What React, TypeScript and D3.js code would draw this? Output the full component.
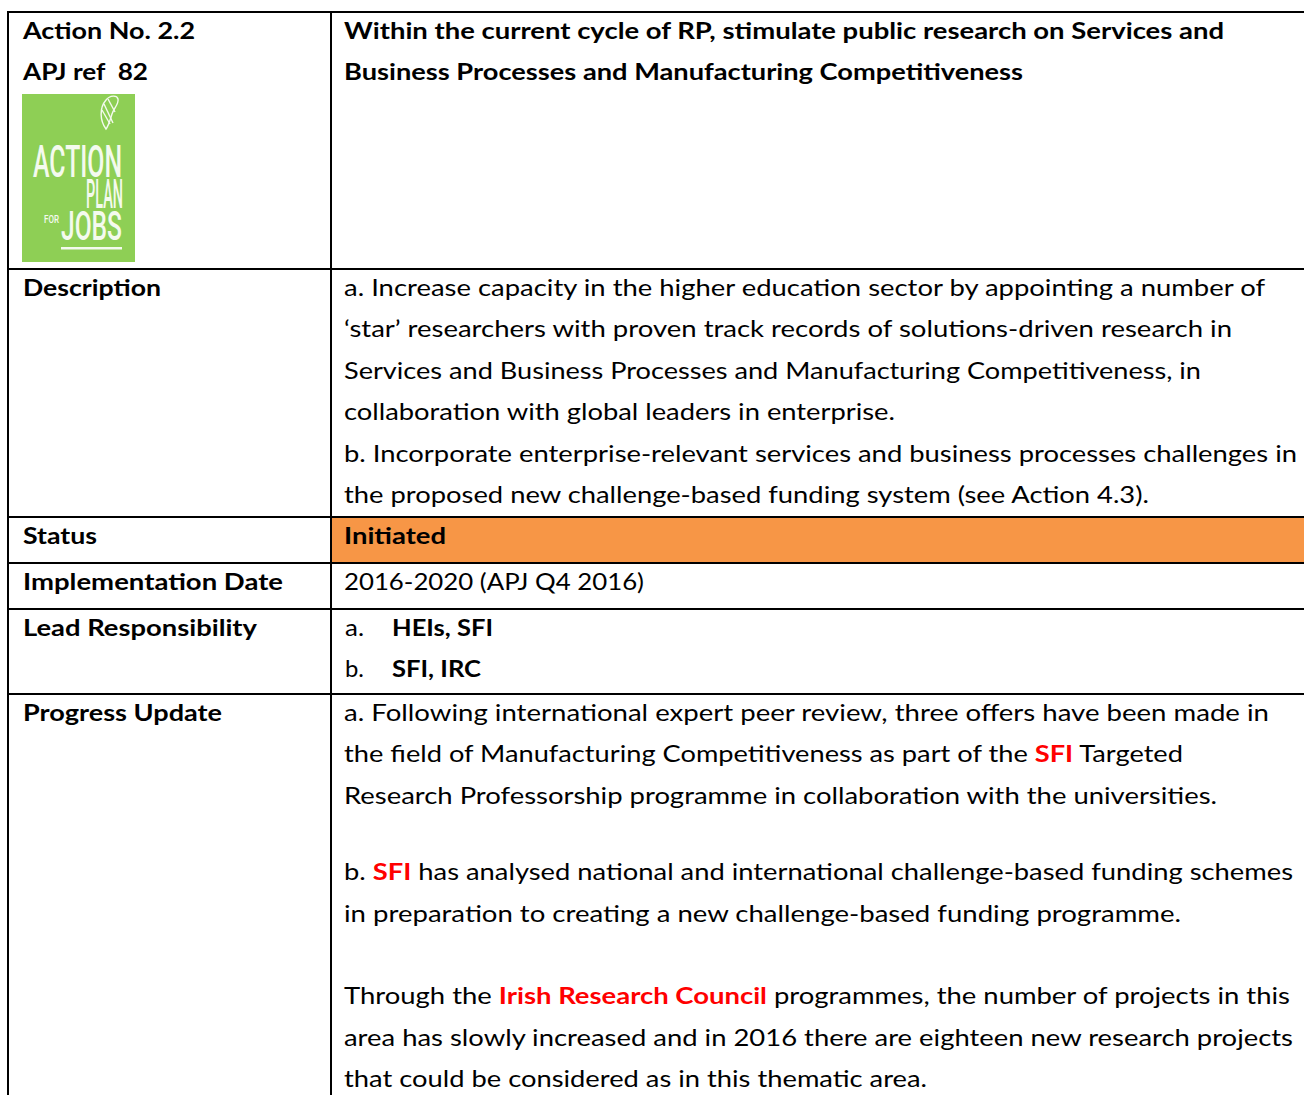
import React from "react";
import * as d3 from "d3";

// ---------- content ----------
const headerLeft = ["Action No. 2.2", "APJ ref  82"];
const headerRight = [
  "Within the current cycle of RP, stimulate public research on Services and",
  "Business Processes and Manufacturing Competitiveness",
];
const rowLabels = ["Description", "Status", "Implementation Date", "Lead Responsibility", "Progress Update"];
const descriptionLines = [
  "a. Increase capacity in the higher education sector by appointing a number of",
  "\u2018star\u2019 researchers with proven track records of solutions-driven research in",
  "Services and Business Processes and Manufacturing Competitiveness, in",
  "collaboration with global leaders in enterprise.",
  "b. Incorporate enterprise-relevant services and business processes challenges in",
  "the proposed new challenge-based funding system (see Action 4.3).",
];
const statusText = "Initiated";
const implementationText = "2016-2020 (APJ Q4 2016)";
const leadMarkers = ["a.", "b."];
const leadValues = ["HEIs, SFI", "SFI, IRC"];
const logoWords = ["ACTION", "PLAN", "FOR", "JOBS"];
// segments: [text, highlighted]
type Seg = [string, boolean];
const progressParagraphs: Seg[][][] = [
  [
    [["a. Following international expert peer review, three offers have been made in", false]],
    [["the field of Manufacturing Competitiveness as part of the ", false], ["SFI", true], [" Targeted", false]],
    [["Research Professorship programme in collaboration with the universities.", false]],
  ],
  [
    [["b. ", false], ["SFI", true], [" has analysed national and international challenge-based funding schemes", false]],
    [["in preparation to creating a new challenge-based funding programme.", false]],
  ],
  [
    [["Through the ", false], ["Irish Research Council", true], [" programmes, the number of projects in this", false]],
    [["area has slowly increased and in 2016 there are eighteen new research projects", false]],
    [["that could be considered as in this thematic area.", false]],
  ],
];

// ---------- layout ----------
const W = 1304;
const H = 1095;
const LEFT_X = 8;
const COL_X = 331;
const rowTops = [12, 269, 517, 563, 609, 694];
const LINE_H = 41.4;
const BASE = 27;
const FONT = "Lato, 'Open Sans', sans-serif";
const FS = 23.5;
const paragraphGaps = [35, 41.4];

// measured line widths (text fitting)
const headerLeftW = [172, 125];
const headerRightW = [880, 679];
const labelW = [138, 74, 260, 234, 199];
const descW = [921, 888, 857, 551, 953, 805];
const statusW = 102;
const implW = 300;
const leadMarkW = [19, 19];
const leadValW = [101, 89];
const progressW = [[925, 839, 873], [949, 837], [946, 949, 583]];

const RED = "#FF0000";

function Line({ x, y, w, bold, children, fill = "#000" }: any) {
  return (
    <text
      x={x}
      y={y}
      fontFamily={FONT}
      fontSize={FS}
      fontWeight={bold ? 700 : 400}
      fill={fill}
      textLength={w}
      lengthAdjust="spacingAndGlyphs"
      style={{ whiteSpace: "pre" }}
    >
      {children}
    </text>
  );
}

function Logo() {
  const x0 = 22, y0 = 94, w = 113, h = 168;
  const white = "#F4FAEE";
  const lf = "Roboto, 'DejaVu Sans Condensed', sans-serif";
  // [x, baseline, size, width]
  const spec: [number, number, number, number][] = [
    [33, 177, 44, 89],
    [86, 208, 41, 37],
    [44, 223, 10, 15],
    [61, 240, 41, 61],
  ];
  return (
    <g>
      <rect x={x0} y={y0} width={w} height={h} fill="#8ECF55" />
      {/* harp */}
      <g fill="none" stroke={white} strokeWidth={1.4}>
        <path d="M106 129 C100 121 99 108 106 100 C110 95 117 95 118 99 C119 104 114 108 112 114 C110 120 109 125 106 129 Z" />
        <path d="M104 104 L113 123" />
        <path d="M102 110 L110 124" />
        <path d="M108 99 L115 112" />
      </g>
      {logoWords.map((t, i) => (
        <text
          key={t}
          x={spec[i][0]}
          y={spec[i][1]}
          fontFamily={lf}
          fontWeight={500}
          fontSize={spec[i][2]}
          fill={white}
          textLength={spec[i][3]}
          lengthAdjust="spacingAndGlyphs"
        >
          {t}
        </text>
      ))}
      <rect x={61} y={247} width={61} height={2.5} fill={white} />
    </g>
  );
}

export default function App() {
  const labelX = 23;
  const textX = COL_X + 13;

  // progress baselines
  const progY: number[][] = [];
  let cur = rowTops[5] + BASE;
  progressParagraphs.forEach((p, pi) => {
    const ys = d3.range(p.length).map((i) => cur + i * LINE_H);
    progY.push(ys);
    cur = ys[ys.length - 1] + LINE_H + (pi < paragraphGaps.length ? paragraphGaps[pi] : 0);
  });

  return (
    <svg
      width={W}
      height={H}
      viewBox={`0 0 ${W} ${H}`}
      style={{ position: "absolute", left: 0, top: 0, background: "#fff" }}
    >
      <rect x={0} y={0} width={W} height={H} fill="#fff" />
      {/* status fill */}
      <rect x={COL_X} y={rowTops[2]} width={W - COL_X} height={rowTops[3] - rowTops[2]} fill="#F79646" />

      {/* header */}
      {headerLeft.map((t, i) => (
        <Line key={"hl" + i} x={labelX} y={rowTops[0] + BASE + i * 41} w={headerLeftW[i]} bold>{t}</Line>
      ))}
      {headerRight.map((t, i) => (
        <Line key={"hr" + i} x={COL_X + 13} y={rowTops[0] + BASE + i * 41} w={headerRightW[i]} bold>{t}</Line>
      ))}
      <Logo />

      {/* labels */}
      {rowLabels.map((t, i) => (
        <Line key={"lb" + i} x={labelX} y={rowTops[i + 1] + BASE} w={labelW[i]} bold>{t}</Line>
      ))}

      {/* description */}
      {descriptionLines.map((t, i) => (
        <Line key={"d" + i} x={textX} y={rowTops[1] + BASE + i * LINE_H} w={descW[i]}>{t}</Line>
      ))}

      {/* status */}
      <Line x={textX} y={rowTops[2] + BASE} w={statusW} bold>{statusText}</Line>

      {/* implementation */}
      <Line x={textX} y={rowTops[3] + BASE} w={implW}>{implementationText}</Line>

      {/* lead */}
      {leadMarkers.map((m, i) => (
        <g key={"ld" + i}>
          <Line x={textX + 1} y={rowTops[4] + BASE + i * LINE_H} w={leadMarkW[i]}>{m}</Line>
          <Line x={392} y={rowTops[4] + BASE + i * LINE_H} w={leadValW[i]} bold>{leadValues[i]}</Line>
        </g>
      ))}

      {/* progress */}
      {progressParagraphs.map((p, pi) =>
        p.map((segs, li) => (
          <text
            key={`p${pi}-${li}`}
            x={textX}
            y={progY[pi][li]}
            fontFamily={FONT}
            fontSize={FS}
            fill="#000"
            textLength={progressW[pi][li]}
            lengthAdjust="spacingAndGlyphs"
            style={{ whiteSpace: "pre" }}
          >
            {segs.map(([s, hi], si) => (
              <tspan key={si} fill={hi ? RED : "#000"} fontWeight={hi ? 700 : 400}>
                {s}
              </tspan>
            ))}
          </text>
        ))
      )}

      {/* grid lines */}
      <g stroke="#000" strokeWidth={2}>
        {rowTops.map((y, i) => (
          <line key={"h" + i} x1={LEFT_X - 1} x2={W} y1={y} y2={y} />
        ))}
        <line x1={LEFT_X} x2={LEFT_X} y1={rowTops[0] - 1} y2={H} />
        <line x1={COL_X} x2={COL_X} y1={rowTops[0] - 1} y2={H} />
      </g>
    </svg>
  );
}
